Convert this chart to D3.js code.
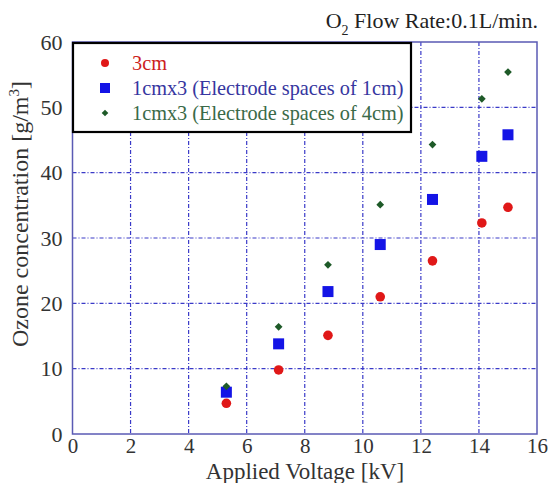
<!DOCTYPE html>
<html>
<head>
<meta charset="utf-8">
<script src="https://d3js.org/d3.v7.min.js"></script>
<style>
  body { margin: 0; background: #fff; }
  svg text { font-family: "Liberation Serif", "Times New Roman", "DejaVu Serif", serif !important; }
</style>
</head>
<body>
<div id="chart"></div>
<script>
// Data
const voltage = [5.3, 7.1, 8.8, 10.6, 12.4, 14.1, 15.0];
const series3cm = [4.7, 9.8, 15.1, 21.0, 26.5, 32.3, 34.7];
const series1cm = [6.4, 13.8, 21.8, 29.0, 35.9, 42.5, 45.8];
const series4cm = [7.3, 16.4, 25.9, 35.1, 44.3, 51.3, 55.4];
const seriesNames = ["3cm", "1cmx3 (Electrode spaces of 1cm)", "1cmx3 (Electrode spaces of 4cm)"];
const xTicks = [0, 2, 4, 6, 8, 10, 12, 14, 16];
const yTicks = [0, 10, 20, 30, 40, 50, 60];

const width = 551, height = 483;
const margin = { top: 42, right: 14, bottom: 49, left: 72.5 };
const iw = width - margin.left - margin.right;
const ih = height - margin.top - margin.bottom;
const serif = "'Liberation Serif', 'Times New Roman', 'DejaVu Serif', serif";

const svg = d3.select("#chart").append("svg")
    .attr("width", width)
    .attr("height", height)
    .attr("font-family", serif);

const g = svg.append("g")
    .attr("transform", `translate(${margin.left},${margin.top})`);

const x = d3.scaleLinear().domain([0, 16]).range([0, iw]);
const y = d3.scaleLinear().domain([0, 60]).range([ih, 0]);

const axisColor = "#5a5ab4";
const gridColor = "#3a3ac8";

// grid lines
g.selectAll(".vgrid")
    .data(xTicks.filter(d => d > 0 && d < 16))
    .enter().append("line")
    .attr("x1", d => x(d)).attr("x2", d => x(d))
    .attr("y1", 0).attr("y2", ih)
    .attr("stroke", gridColor)
    .attr("stroke-width", 1.2)
    .attr("stroke-dasharray", "4,2,1,2");

g.selectAll(".hgrid")
    .data(yTicks.filter(d => d > 0 && d < 60))
    .enter().append("line")
    .attr("x1", 0).attr("x2", iw)
    .attr("y1", d => y(d)).attr("y2", d => y(d))
    .attr("stroke", gridColor)
    .attr("stroke-width", 1.2)
    .attr("stroke-dasharray", "4,2,1,2");

// frame
g.append("rect")
    .attr("width", iw).attr("height", ih)
    .attr("fill", "none")
    .attr("stroke", axisColor)
    .attr("stroke-width", 1.5);

// axes (labels only)
const xAxis = g.append("g")
    .attr("transform", `translate(0,${ih})`)
    .call(d3.axisBottom(x).tickValues(xTicks).tickSize(0).tickPadding(4));
xAxis.attr("font-family", serif).attr("font-size", 21);
xAxis.select(".domain").remove();
xAxis.selectAll("text").attr("fill", "#333");

const yAxis = g.append("g")
    .call(d3.axisLeft(y).tickValues(yTicks).tickSize(0).tickPadding(10));
yAxis.attr("font-family", serif).attr("font-size", 22);
yAxis.select(".domain").remove();
yAxis.selectAll("text").attr("fill", "#333");

// points
const colors = ["#e01818", "#1414e6", "#1e5a28"];

g.selectAll(".pt0")
    .data(voltage.map((v, i) => [v, series3cm[i]]))
    .enter().append("circle")
    .attr("cx", d => x(d[0])).attr("cy", d => y(d[1]))
    .attr("r", 4.8)
    .attr("fill", colors[0]);

g.selectAll(".pt1")
    .data(voltage.map((v, i) => [v, series1cm[i]]))
    .enter().append("rect")
    .attr("x", d => x(d[0]) - 5.5).attr("y", d => y(d[1]) - 5.5)
    .attr("width", 11).attr("height", 11)
    .attr("fill", colors[1]);

const diamond = d3.symbol().type(d3.symbolSquare).size(30);
g.selectAll(".pt2")
    .data(voltage.map((v, i) => [v, series4cm[i]]))
    .enter().append("path")
    .attr("transform", d => `translate(${x(d[0])},${y(d[1])}) rotate(45)`)
    .attr("d", diamond)
    .attr("fill", colors[2]);

// legend
const legend = svg.append("g").attr("transform", "translate(73,43)");
legend.append("rect")
    .attr("width", 338).attr("height", 89)
    .attr("fill", "#fff")
    .attr("stroke", "#000")
    .attr("stroke-width", 2.2);

const textColors = ["#cc2020", "#3636a0", "#3a6a48"];
seriesNames.forEach((name, i) => {
    const row = legend.append("g").attr("transform", `translate(0,${20 + i * 25})`);
    if (i === 0) {
        row.append("circle").attr("cx", 32).attr("cy", 0).attr("r", 4).attr("fill", colors[0]);
    } else if (i === 1) {
        row.append("rect").attr("x", 27).attr("y", -5).attr("width", 10).attr("height", 10).attr("fill", colors[1]);
    } else {
        row.append("path").attr("transform", "translate(32,0) rotate(45)")
            .attr("d", d3.symbol().type(d3.symbolSquare).size(22)).attr("fill", colors[2]);
    }
    row.append("text")
        .attr("x", 59).attr("y", 7)
        .attr("fill", textColors[i])
        .attr("font-size", 20.3)
        .text(name);
});

// title
const title = svg.append("text")
    .attr("x", 538).attr("y", 28)
    .attr("text-anchor", "end")
    .attr("fill", "#222")
    .attr("font-size", 22);
title.append("tspan").text("O");
title.append("tspan").attr("dy", 7).attr("font-size", 14).text("2");
title.append("tspan").attr("dy", -7).text(" Flow Rate:0.1L/min.");

// axis titles
svg.append("text")
    .attr("x", 305)
    .attr("y", 479)
    .attr("text-anchor", "middle")
    .attr("fill", "#333")
    .attr("font-size", 23)
    .text("Applied Voltage [kV]");

const yl = svg.append("text")
    .attr("transform", "translate(28,214) rotate(-90)")
    .attr("text-anchor", "middle")
    .attr("fill", "#333")
    .attr("font-size", 24);
yl.append("tspan").text("Ozone concentration [g/m");
yl.append("tspan").attr("dy", -9).attr("font-size", 15).text("3");
yl.append("tspan").attr("dy", 9).text("]");
</script>
</body>
</html>
